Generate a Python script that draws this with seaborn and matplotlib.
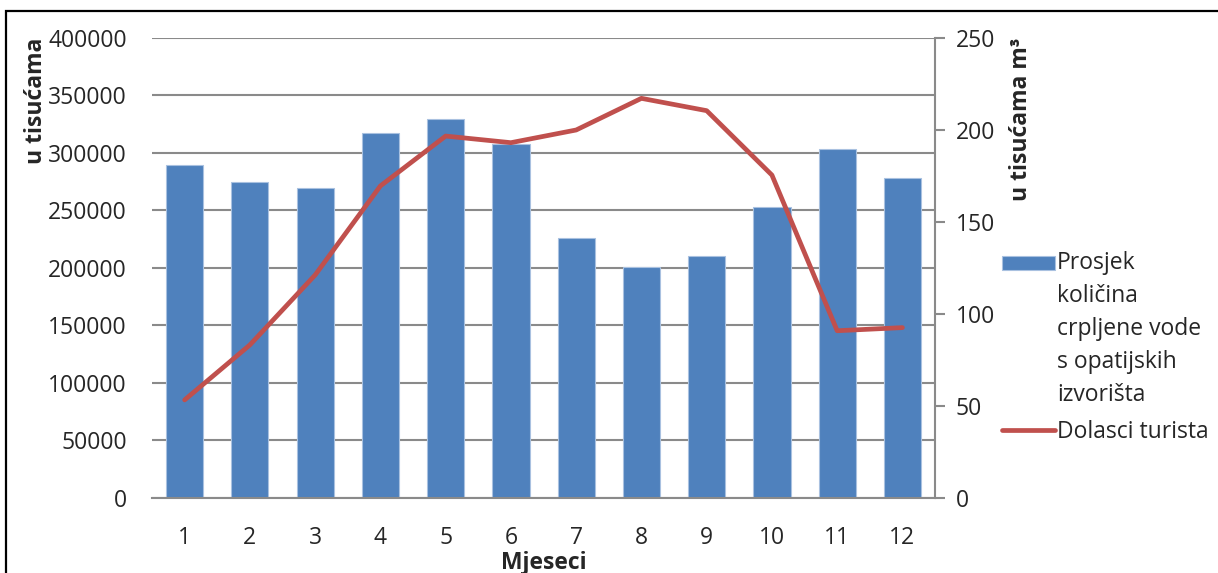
import numpy as np
import pandas as pd
import matplotlib
matplotlib.use("Agg")
import matplotlib.pyplot as plt
import seaborn as sns
from matplotlib.patches import Rectangle
from matplotlib.legend_handler import HandlerPatch

# Data
months = [1, 2, 3, 4, 5, 6, 7, 8, 9, 10, 11, 12]
water = [289500, 274800, 269300, 317700, 329600, 307800,
         226100, 200600, 210400, 253300, 303200, 278000]
tourists = [53.3, 83.2, 121.2, 169.6, 196.7, 193.1,
            200.0, 217.2, 210.5, 175.5, 90.9, 92.6]
left_ticks = [0, 50000, 100000, 150000, 200000, 250000, 300000, 350000, 400000]
right_ticks = [0, 50, 100, 150, 200, 250]
bar_label = "Prosjek\nkoličina\ncrpljene vode\ns opatijskih\nizvorišta"
line_label = "Dolasci turista"

BAR_COLOR = "#4F81BD"
LINE_COLOR = "#C0504D"
GRID_COLOR = "#8A8A8A"
FS = 16.5

sns.set_theme(style="white")
plt.rcParams['font.family'] = ['Open Sans', 'DejaVu Sans']

df = pd.DataFrame({"month": months, "water": water, "tourists": tourists})

fig = plt.figure(figsize=(12.18, 5.73), dpi=100)
ax = fig.add_axes([0.1248, 0.1309, 0.6429, 0.8028])

sns.barplot(data=df, x="month", y="water", ax=ax, native_scale=True,
            color=BAR_COLOR, saturation=1, width=0.57,
            edgecolor="#A9C1E0", linewidth=0.8)
ax.set_xlim(0.5, 12.5)
ax.set_ylim(0, 400000)
ax.set_yticks(left_ticks)
ax.set_yticklabels([str(v) for v in left_ticks], fontsize=FS)
ax.set_xticks(months)
ax.set_xticklabels([str(m) for m in months], fontsize=FS)
ax.yaxis.grid(True, color=GRID_COLOR, linewidth=1.5)
ax.set_axisbelow(True)
ax.tick_params(axis="y", length=0, pad=18)
ax.tick_params(axis="x", length=0, pad=20)
for s in ["left", "top", "right"]:
    ax.spines[s].set_visible(False)
ax.spines["bottom"].set_color(GRID_COLOR)
ax.spines["bottom"].set_linewidth(1.5)
ax.set_xlabel("Mjeseci", fontsize=FS, fontweight="bold", labelpad=1)
ax.set_ylabel("u tisućama", fontsize=FS, fontweight="bold", loc="top", labelpad=0)

ax2 = ax.twinx()
sns.lineplot(data=df, x="month", y="tourists", ax=ax2, color=LINE_COLOR,
             linewidth=3.4, label=line_label, legend=False)
ax2.set_ylim(0, 250)
ax2.set_yticks(right_ticks)
ax2.set_yticklabels([str(v) for v in right_ticks], fontsize=FS)
ax2.tick_params(axis="y", length=7, width=1.5, color=GRID_COLOR, pad=8, direction="out")
for s in ["left", "top", "bottom"]:
    ax2.spines[s].set_visible(False)
ax2.spines["right"].set_color(GRID_COLOR)
ax2.spines["right"].set_linewidth(1.5)
ax2.set_ylabel("u tisućama m³", fontsize=FS, fontweight="bold", loc="top", labelpad=10)


# legend: bar swatch sits beside the first line of its label
def top_swatch(legend, orig_handle, xdescent, ydescent, width, height, fontsize):
    return Rectangle((-xdescent, -ydescent + 49), width, height * 0.85)


bar_handle = Rectangle((0, 0), 1, 1, facecolor=BAR_COLOR, edgecolor="#A9C1E0", linewidth=0.8)
h2, l2 = ax2.get_legend_handles_labels()
leg = fig.legend([bar_handle] + h2, [bar_label] + l2, loc="upper left",
                 bbox_to_anchor=(0.815, 0.578),
                 frameon=False, fontsize=FS, handlelength=2.3, handletextpad=0.1,
                 labelspacing=0.55, borderaxespad=0,
                 handler_map={bar_handle: HandlerPatch(patch_func=top_swatch)})
for t in leg.get_texts():
    t.set_linespacing(1.5)

# outer chart border
fig.patches.append(Rectangle((6 / 1218, -0.1), 1.2, (573 - 11) / 573 + 0.1,
                             transform=fig.transFigure, fill=False,
                             edgecolor="black", linewidth=1.6))

fig.savefig("out.png", dpi=100)
